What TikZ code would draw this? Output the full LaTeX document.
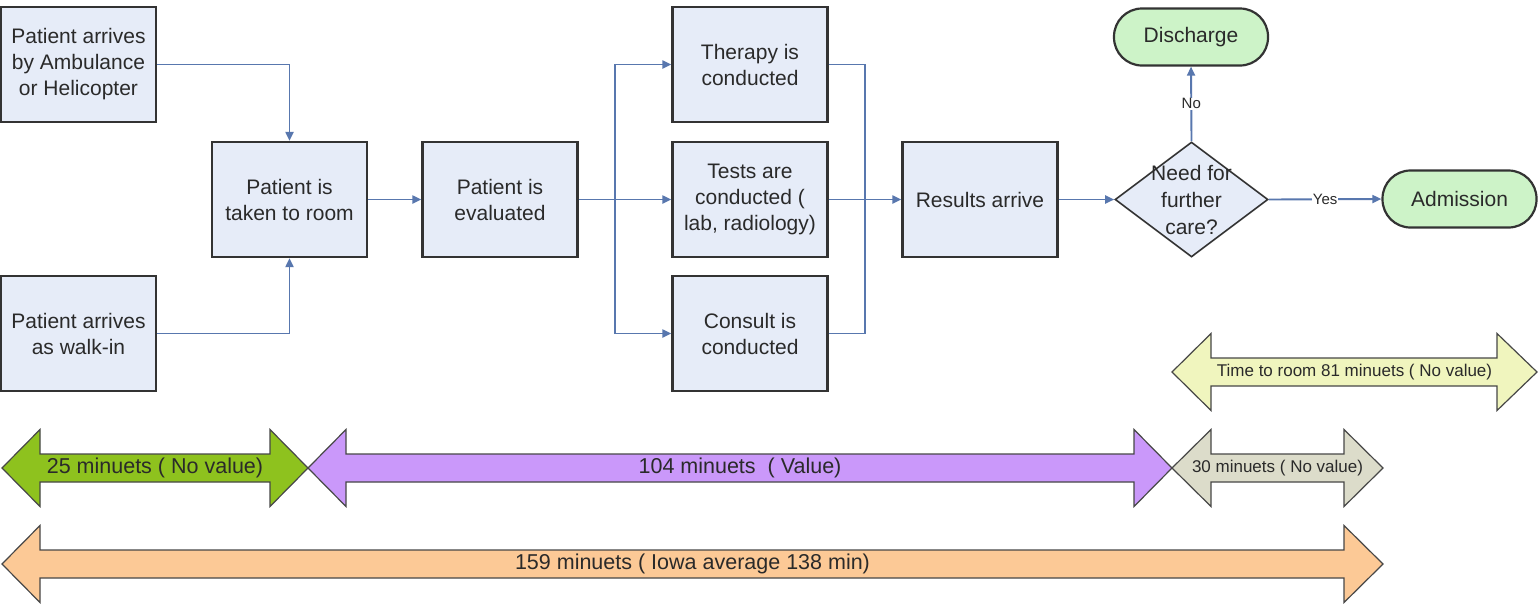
\documentclass[tikz,border=0pt]{standalone}
\usepackage{fontspec}
\setmainfont{Liberation Sans}
\usetikzlibrary{shapes.geometric,arrows.meta}
\definecolor{boxfill}{HTML}{E6ECF8}
\definecolor{boxline}{HTML}{333333}
\definecolor{conncol}{HTML}{5877AE}
\definecolor{termfill}{HTML}{CDF3C8}
\definecolor{txt}{HTML}{2A2A2A}
\definecolor{ayellow}{HTML}{F0F5BE}
\definecolor{agray}{HTML}{DCDCCA}
\definecolor{agreen}{HTML}{8EC21E}
\definecolor{apurple}{HTML}{CA98FA}
\definecolor{aorange}{HTML}{FCC996}
\tikzset{
  box/.style={draw=boxline, line width=2.2pt, fill=boxfill, minimum width=155pt, minimum height=115pt,
    inner sep=0pt, align=center, font=\fontsize{21}{26}\selectfont, text=txt},
  term/.style={box, fill=termfill, minimum width=154pt, minimum height=57pt, rounded corners=28pt},
  dec/.style={diamond, draw=boxline, line width=1.6pt, fill=boxfill, minimum width=153pt,
    minimum height=115pt, inner sep=0pt},
  dectext/.style={align=center, font=\fontsize{21}{27}\selectfont, text=txt, inner sep=0pt},
  conn/.style={draw=conncol, line width=1.9pt},
  arr/.style={conn, -{Triangle[length=9pt,width=8pt]}},
  lbl/.style={font=\fontsize{15}{18}\selectfont, fill=white, inner sep=1pt, text=txt},
  darr/.style={draw=boxline!90, line width=1.2pt, line join=miter},
  bigtxt/.style={font=\fontsize{21.5}{24}\selectfont, text=txt, inner sep=0pt},
  smalltxt/.style={font=\fontsize{17}{20}\selectfont, text=txt, inner sep=0pt}
}
\newcommand\dblarr[9]{%
  \path[darr, fill=#6] (#1,#5) -- (#2,#5-38.5) -- (#2,#5-14) -- (#3,#5-14) -- (#3,#5-38.5)
    -- (#4,#5) -- (#3,#5+38.5) -- (#3,#5+14) -- (#2,#5+14) -- (#2,#5+38.5) -- cycle;
  \node[#9] (#7) at ({(#1+#4)/2},#5) {#8};}
\begin{document}
\begin{tikzpicture}[x=1pt,y=-1pt]
\useasboundingbox (0,0) rectangle (1538,603);
\fill[white] (0,0) rectangle (1538,603);

% flow nodes
\node[box] (amb) at (78.5,64.5) {Patient arrives\\by Ambulance\\or Helicopter};
\node[box] (walk) at (78.5,333.5) {Patient arrives\\as walk-in};
\node[box] (room) at (289.5,199.5) {Patient is\\taken to room};
\node[box] (eval) at (500,199.5) {Patient is\\evaluated};
\node[box] (ther) at (750,64.5) {Therapy is\\conducted};
\node[box] (tests) at (750,199.5) {Tests are\\conducted (\\lab, radiology)};
\node[box] (cons) at (750,333.5) {Consult is\\conducted};
\node[box] (res) at (980,199.5) {Results arrive};
\node[dec] (dec) at (1191.5,199.5) {};
\node[dectext] (dect) at (1191.5,199.5) {Need for\\further\\care?};
\node[term] (dis) at (1191,37) {Discharge};
\node[term] (adm) at (1459.5,199) {Admission};

\coordinate (sp) at (615,199.5);
\coordinate (mg) at (865,199.5);

% connectors
\draw[arr] (amb.east) -| (room.north);
\draw[arr] (walk.east) -| (room.south);
\draw[arr] (room.east) -- (eval.west);
\draw[arr] (eval.east) -- (tests.west);
\draw[arr] (sp) |- (ther.west);
\draw[arr] (sp) |- (cons.west);
\draw[conn] (ther.east) -| (mg);
\draw[conn] (cons.east) -| (mg);
\draw[arr] (tests.east) -- (res.west);
\draw[arr] (res.east) -- (dec.west);
\draw[arr] (dec.north) -- node[lbl] (no) {No} (dis.south);
\draw[arr] (dec.east) -- node[lbl] (yes) {Yes} (adm.west);

% time arrows
\dblarr{1172}{1211}{1497}{1537}{372}{ayellow}{tyel}{Time to room 81 minuets ( No value)}{smalltxt}
\dblarr{2}{40}{270}{308}{468}{agreen}{tgreen}{25 minuets ( No value)}{bigtxt}
\dblarr{308}{346}{1134}{1172}{468}{apurple}{tpurple}{104 minuets \ ( Value)}{bigtxt}
\dblarr{1172}{1211}{1344}{1383}{468}{agray}{tgray}{30 minuets ( No value)}{smalltxt}
\dblarr{2}{40}{1344}{1383}{564}{aorange}{torange}{159 minuets ( Iowa average 138 min)}{bigtxt}
\end{tikzpicture}
\end{document}
